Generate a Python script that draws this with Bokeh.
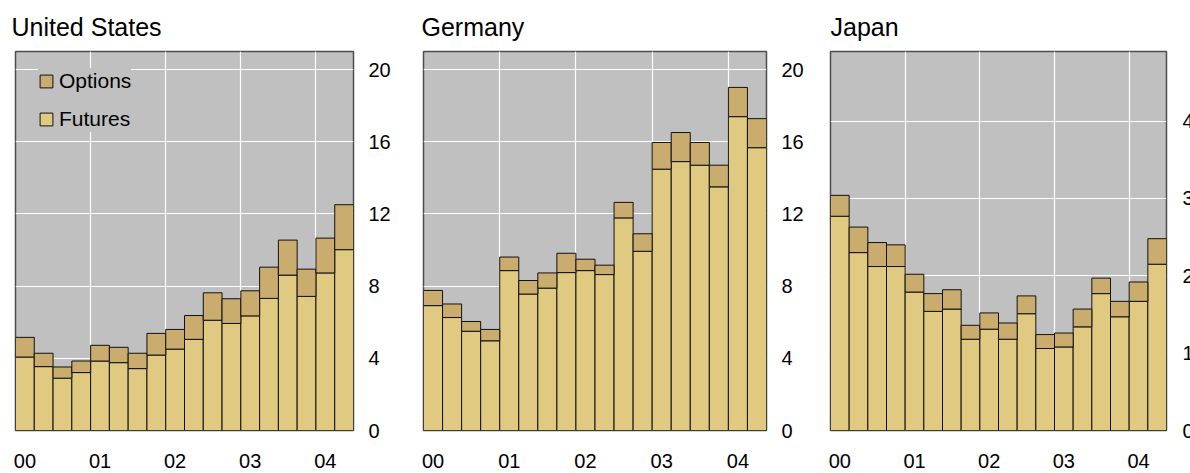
from bokeh.plotting import figure
from bokeh.models import (ColumnDataSource, FixedTicker, Range1d,
                          Legend, LegendItem, Title)
from bokeh.layouts import row
from bokeh.embed import file_html
from bokeh.resources import INLINE

# ---- data (quarters 2000Q1 .. 2004Q2) ----
quarters = ["2000Q1", "2000Q2", "2000Q3", "2000Q4", "2001Q1", "2001Q2", "2001Q3", "2001Q4",
            "2002Q1", "2002Q2", "2002Q3", "2002Q4", "2003Q1", "2003Q2", "2003Q3", "2003Q4",
            "2004Q1", "2004Q2"]
year_labels = ["00", "01", "02", "03", "04"]

us_futures = [4.07, 3.54, 2.90, 3.21, 3.85, 3.76, 3.43, 4.18, 4.51, 5.05, 6.11, 5.93,
              6.35, 7.32, 8.61, 7.43, 8.73, 10.02]
us_options = [1.09, 0.74, 0.62, 0.64, 0.87, 0.85, 0.85, 1.20, 1.09, 1.32, 1.52, 1.37,
              1.39, 1.73, 1.94, 1.51, 1.93, 2.49]

de_futures = [6.92, 6.26, 5.50, 4.97, 8.86, 7.56, 7.89, 8.75, 8.86, 8.64, 11.78, 9.93,
              14.48, 14.90, 14.70, 13.50, 17.39, 15.67]
de_options = [0.84, 0.75, 0.54, 0.63, 0.75, 0.75, 0.84, 1.07, 0.63, 0.52, 0.86, 0.97,
              1.48, 1.61, 1.26, 1.20, 1.62, 1.61]

jp_futures = [2.77, 2.30, 2.12, 2.12, 1.79, 1.54, 1.57, 1.18, 1.31, 1.18, 1.51, 1.06,
              1.08, 1.34, 1.77, 1.47, 1.67, 2.15]
jp_options = [0.27, 0.33, 0.31, 0.28, 0.23, 0.23, 0.25, 0.18, 0.21, 0.21, 0.23, 0.18,
              0.18, 0.23, 0.20, 0.20, 0.25, 0.33]

FONT = "Liberation Sans"
FUT_COLOR = "#e0ca82"
OPT_COLOR = "#c9ac6e"
BG = "#c0c0c0"


def panel(title, futures, options, ymax, yticks, width, left, right, top, bottom,
          title_offset, ystandoff, legend=False):
    n = len(quarters)
    x = [i + 0.5 for i in range(n)]
    tops = [f + o for f, o in zip(futures, options)]
    src = ColumnDataSource(dict(x=x, q=quarters, fut=futures, opt=options, top=tops))

    p = figure(width=width, height=473, output_backend="svg", toolbar_location=None,
               x_range=Range1d(0, n), y_range=Range1d(0, ymax),
               x_axis_location="below", y_axis_location="right",
               min_border_left=left, min_border_right=right,
               min_border_top=top, min_border_bottom=bottom)
    p.title = Title(text=title, text_font=FONT, text_font_size="25px",
                    text_font_style="normal", text_color="#000000", align="left",
                    offset=title_offset, standoff=21)
    p.background_fill_color = BG
    p.border_fill_color = "white"
    p.outline_line_color = "#4d4d4d"
    p.outline_line_width = 1.5

    r_fut = p.vbar(x="x", width=1, bottom=0, top="fut", source=src,
                   fill_color=FUT_COLOR, line_color="#111111", line_width=1)
    r_opt = p.vbar(x="x", width=1, bottom="fut", top="top", source=src,
                   fill_color=OPT_COLOR, line_color="#111111", line_width=1)

    # axes
    xa = p.xaxis[0]
    xa.ticker = FixedTicker(ticks=[0.5 + 4 * i for i in range(len(year_labels))])
    xa.major_label_overrides = {0.5 + 4 * i: lab for i, lab in enumerate(year_labels)}
    xa.axis_line_color = None
    xa.major_tick_line_color = None
    xa.minor_tick_line_color = None
    xa.major_label_text_font = FONT
    xa.major_label_text_font_size = "20px"
    xa.major_label_text_color = "#000000"
    xa.major_label_standoff = 17

    ya = p.yaxis[0]
    ya.ticker = FixedTicker(ticks=yticks)
    ya.axis_line_color = None
    ya.major_tick_line_color = None
    ya.minor_tick_line_color = None
    ya.major_label_text_font = FONT
    ya.major_label_text_font_size = "20px"
    ya.major_label_text_color = "#000000"
    ya.major_label_standoff = ystandoff

    # grids
    p.xgrid.ticker = FixedTicker(ticks=[4, 8, 12, 16])
    p.ygrid.ticker = FixedTicker(ticks=[t for t in yticks if t > 0])
    for g in (p.xgrid[0], p.ygrid[0]):
        g.grid_line_color = "white"
        g.grid_line_width = 1.2
        g.grid_line_alpha = 1.0
        g.level = "underlay"

    if legend:
        leg = Legend(items=[LegendItem(label="Options", renderers=[r_opt]),
                            LegendItem(label="Futures", renderers=[r_fut])],
                     location=(23, 298), margin=0, padding=8, spacing=12,
                     glyph_width=16, glyph_height=16, label_height=26,
                     label_standoff=5, label_text_font=FONT,
                     label_text_font_size="21px", label_text_color="#000000",
                     background_fill_color=BG, background_fill_alpha=1.0,
                     border_line_color=None)
        p.add_layout(leg, "center")
    return p


p1 = panel("United States", us_futures, us_options, 21, [0, 4, 8, 12, 16, 20],
           400, 15, 47, 48, 43, -4, 9, legend=True)
p2 = panel("Germany", de_futures, de_options, 21, [0, 4, 8, 12, 16, 20],
           410, 23, 44, 51, 41, -2, 9)
p3 = panel("Japan", jp_futures, jp_options, 4.9, [0, 1, 2, 3, 4],
           410, 20, 54, 49, 43, 0, 10)

layout = row(p1, p2, p3, spacing=0)

html = file_html(layout, INLINE, title="Bond futures and options turnover")
html = html.replace("<head>", "<head><style>html,body{overflow:hidden;margin:0;padding:0}</style>", 1)
open("out.html", "w").write(html)
